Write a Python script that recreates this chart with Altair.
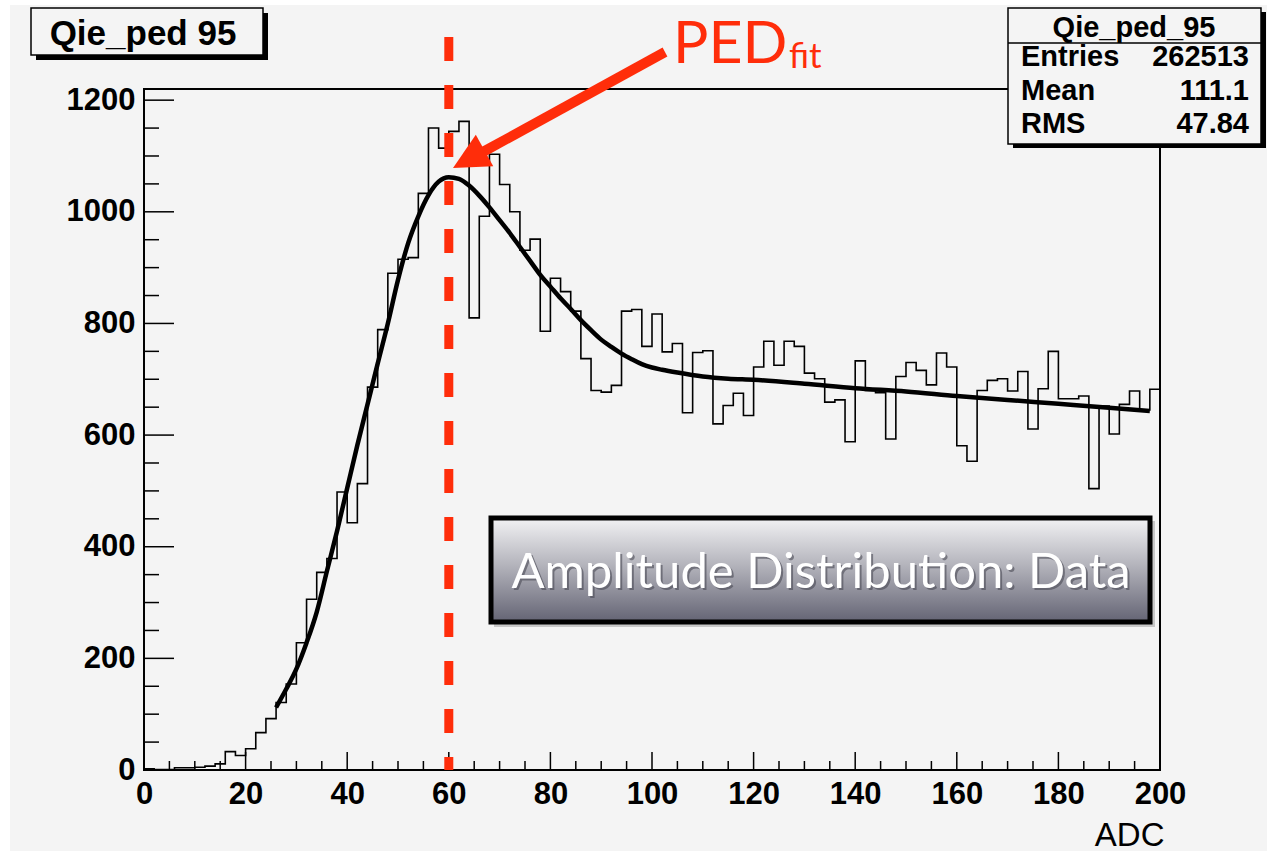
import altair as alt
import pandas as pd

# ---------------- data ----------------
bin_low = list(range(0, 200, 2))            # ADC bin lower edges (2 ADC wide bins)
counts = [2, 1, 1, 4, 4, 5, 7, 11, 33, 26,
          38, 67, 92, 121, 154, 228, 306, 354, 379, 498,
          443, 513, 686, 789, 890, 915, 918, 1033, 1150, 1114,
          1144, 1162, 810, 992, 1103, 1049, 1000, 931, 951, 786,
          881, 857, 822, 737, 680, 677, 689, 822, 825, 759,
          817, 749, 764, 640, 748, 751, 620, 653, 675, 635,
          722, 768, 725, 768, 759, 711, 701, 659, 663, 588,
          733, 680, 676, 593, 705, 730, 716, 690, 747, 722,
          581, 553, 680, 698, 701, 679, 714, 611, 683, 750,
          665, 665, 670, 504, 652, 602, 655, 679, 645, 682]

fit_adc = [26, 28, 30, 32, 34, 36, 38, 40, 42, 44, 46, 48, 50, 52, 54, 56, 58, 60,
           62, 64, 66, 68, 70, 72, 74, 76, 78, 80, 82, 84, 86, 88, 90, 92, 94, 96,
           98, 100, 102, 105, 110, 115, 120, 130, 140, 150, 160, 170, 180, 190, 198]
fit_val = [112, 145, 181, 228, 283, 356, 428, 505, 582, 655, 728, 800, 878, 944,
           992, 1030, 1054, 1062, 1059, 1047, 1029, 1008, 985, 962, 937, 912, 887,
           866, 845, 826, 806, 788, 771, 758, 746, 736, 727, 721, 717, 712, 705,
           701, 699, 692, 684, 678, 670, 663, 656, 649, 643]

ped_fit = [60]

x_major = list(range(0, 201, 20))
x_minor = [v for v in range(0, 201, 5) if v % 20]
y_major = list(range(0, 1201, 200))
y_minor = [v for v in range(0, 1201, 50) if v % 200]

stats_labels = ["Entries", "Mean", "RMS"]
stats_values = ["262513", "111.1", "47.84"]

# ---------------- layout / style ----------------
PAGE_W, PAGE_H = 1267, 851
OX, OY = 144, 89            # plot origin on the page
W, H = 1016, 681
RED = "#ff2d0a"
BG = "#f4f4f4"
ROOT_FONT = "Liberation Sans"
KEY_FONT = "Lato"
STAT_ROW_Y = [66, 100, 133]   # baselines of the stats rows on the page


def px(x):
    return x - OX


def py(y):
    return y - OY


xs = alt.Scale(domain=[0, 200], nice=False, zero=False)
ys = alt.Scale(domain=[0, 1220], nice=False, zero=False)

x_axis = alt.Axis(values=x_major, format="d", ticks=False, domain=False, grid=False,
                  labelFont=ROOT_FONT, labelFontWeight="bold", labelFontSize=31,
                  labelColor="black", labelPadding=9, labelFlush=False, labelOverlap=False,
                  title="ADC", titleFont=ROOT_FONT, titleFontWeight="normal",
                  titleFontSize=33, titleColor="black", titleAnchor="end",
                  titleAlign="right", titleBaseline="alphabetic", titleX=1020, titleY=75,
                  zindex=1)
y_axis = alt.Axis(values=y_major, format="d", ticks=False, domain=False, grid=False,
                  labelFont=ROOT_FONT, labelFontWeight="bold", labelFontSize=31,
                  labelColor="black", labelPadding=9, labelFlush=False, labelOverlap=False,
                  title=None, zindex=1)

hist_df = pd.DataFrame({"adc": bin_low + [200], "count": counts + [counts[-1]]})
fit_df = pd.DataFrame({"adc": fit_adc, "count": fit_val})

hist = alt.Chart(hist_df).mark_line(interpolate="step-after", color="black",
                                     strokeWidth=1.6).encode(
    x=alt.X("adc:Q", scale=xs, axis=x_axis),
    y=alt.Y("count:Q", scale=ys, axis=y_axis),
)

fit = alt.Chart(fit_df).mark_line(interpolate="monotone", color="black",
                                  strokeWidth=4.5).encode(
    x=alt.X("adc:Q", scale=xs, axis=x_axis), y=alt.Y("count:Q", scale=ys, axis=y_axis))

# inner ticks
xmaj = alt.Chart(pd.DataFrame({"adc": x_major})).mark_rule(color="black", strokeWidth=1.5).encode(
    x=alt.X("adc:Q", scale=xs, axis=x_axis), y=alt.value(H), y2=alt.value(H - 18))
xmin = alt.Chart(pd.DataFrame({"adc": x_minor})).mark_rule(color="black", strokeWidth=1.5).encode(
    x=alt.X("adc:Q", scale=xs, axis=x_axis), y=alt.value(H), y2=alt.value(H - 9))
ymaj = alt.Chart(pd.DataFrame({"count": y_major})).mark_rule(color="black", strokeWidth=1.5).encode(
    y=alt.Y("count:Q", scale=ys, axis=y_axis), x=alt.value(0), x2=alt.value(30))
ymin = alt.Chart(pd.DataFrame({"count": y_minor})).mark_rule(color="black", strokeWidth=1.5).encode(
    y=alt.Y("count:Q", scale=ys, axis=y_axis), x=alt.value(0), x2=alt.value(15))

one = pd.DataFrame({"k": [0]})

# white page margins
white_left = alt.Chart(one).mark_rect(color="white").encode(
    x=alt.value(px(0)), x2=alt.value(px(10)), y=alt.value(py(0)), y2=alt.value(py(PAGE_H)))
white_top = alt.Chart(one).mark_rect(color="white").encode(
    x=alt.value(px(0)), x2=alt.value(px(PAGE_W)), y=alt.value(py(0)), y2=alt.value(py(5)))

# red dashed PED line
ped_line = alt.Chart(pd.DataFrame({"adc": ped_fit})).mark_rule(
    color=RED, strokeWidth=9, strokeDash=[24, 24]).encode(
    x=alt.X("adc:Q", scale=xs, axis=x_axis), y=alt.value(py(37)), y2=alt.value(H))

# arrow
shaft = alt.Chart(one).mark_rule(color=RED, strokeWidth=10).encode(
    x=alt.value(px(665)), y=alt.value(py(52)), x2=alt.value(px(481)), y2=alt.value(py(153)))
head = alt.Chart(one).mark_point(shape="M0,0 L1,2 L-1,2 Z", size=1300, angle=241,
                                 filled=True, color=RED, opacity=1).encode(
    x=alt.value(px(453)), y=alt.value(py(168)))
ped_txt = alt.Chart(one).mark_text(text="PED", font=KEY_FONT, fontSize=59, color=RED,
                                   align="left", baseline="alphabetic").encode(
    x=alt.value(px(673)), y=alt.value(py(63)))
fit_txt = alt.Chart(one).mark_text(text="fit", font=KEY_FONT, fontSize=35, color=RED,
                                   align="left", baseline="alphabetic").encode(
    x=alt.value(px(789)), y=alt.value(py(68)))

# "Amplitude Distribution: Data" box
grad = alt.LinearGradient(gradient="linear", x1=0, x2=0, y1=0, y2=1,
                          stops=[alt.GradientStop(offset=0, color="#f2f2f4"),
                                 alt.GradientStop(offset=0.45, color="#b4b4bc"),
                                 alt.GradientStop(offset=1, color="#646474")])
amp_shadow = alt.Chart(one).mark_rect(color="#9a9a9a", opacity=0.5).encode(
    x=alt.value(px(494)), x2=alt.value(px(1155)), y=alt.value(py(521)), y2=alt.value(py(627)))
amp_box = alt.Chart(one).mark_rect(color=grad, stroke="black", strokeWidth=5).encode(
    x=alt.value(px(491)), x2=alt.value(px(1150)), y=alt.value(py(518)), y2=alt.value(py(622)))
amp_txt_sh = alt.Chart(one).mark_text(text="Amplitude Distribution: Data", font=KEY_FONT,
                                      fontSize=49, color="#4a4a55", opacity=0.6,
                                      align="center", baseline="alphabetic").encode(
    x=alt.value(px(823)), y=alt.value(py(590)))
amp_txt = alt.Chart(one).mark_text(text="Amplitude Distribution: Data", font=KEY_FONT,
                                   fontSize=49, color="white",
                                   align="center", baseline="alphabetic").encode(
    x=alt.value(px(821)), y=alt.value(py(588)))

# title box
title_sh = alt.Chart(one).mark_rect(color="black").encode(
    x=alt.value(px(36)), x2=alt.value(px(268)), y=alt.value(py(13)), y2=alt.value(py(60)))
title_box = alt.Chart(one).mark_rect(color=BG, stroke="black", strokeWidth=1.5).encode(
    x=alt.value(px(31)), x2=alt.value(px(263)), y=alt.value(py(8)), y2=alt.value(py(55)))
title_txt = alt.Chart(one).mark_text(text="Qie_ped 95", font=ROOT_FONT, fontWeight="bold",
                                     fontSize=35, color="black", align="center",
                                     baseline="alphabetic").encode(
    x=alt.value(px(143)), y=alt.value(py(45)))

# stats box
st_sh = alt.Chart(one).mark_rect(color="black").encode(
    x=alt.value(px(1013)), x2=alt.value(px(1266)), y=alt.value(py(12)), y2=alt.value(py(148)))
st_box = alt.Chart(one).mark_rect(color=BG, stroke="black", strokeWidth=1.5).encode(
    x=alt.value(px(1008)), x2=alt.value(px(1261)), y=alt.value(py(8)), y2=alt.value(py(144)))
st_sep = alt.Chart(one).mark_rule(color="black", strokeWidth=1.5).encode(
    x=alt.value(px(1008)), x2=alt.value(px(1261)), y=alt.value(py(43)))
st_title = alt.Chart(one).mark_text(text="Qie_ped_95", font=ROOT_FONT, fontWeight="bold",
                                    fontSize=29, color="black", align="center",
                                    baseline="alphabetic").encode(
    x=alt.value(px(1134)), y=alt.value(py(37)))

stat_layers = []
for lab, val, ry in zip(stats_labels, stats_values, STAT_ROW_Y):
    stat_layers.append(alt.Chart(one).mark_text(
        text=lab, font=ROOT_FONT, fontWeight="bold", fontSize=29, color="black",
        align="left", baseline="alphabetic").encode(x=alt.value(px(1021)), y=alt.value(py(ry))))
    stat_layers.append(alt.Chart(one).mark_text(
        text=val, font=ROOT_FONT, fontWeight="bold", fontSize=29, color="black",
        align="right", baseline="alphabetic").encode(x=alt.value(px(1249)), y=alt.value(py(ry))))

chart = alt.layer(
    white_left, white_top, hist, fit, xmaj, xmin, ymaj, ymin, ped_line,
    amp_shadow, amp_box, amp_txt_sh, amp_txt, shaft, head, ped_txt, fit_txt,
    title_sh, title_box, title_txt, st_sh, st_box, st_sep, st_title, *stat_layers,
).properties(
    width=W, height=H,
    autosize=alt.AutoSizeParams(type="none"),
    padding={"left": OX, "top": OY, "right": PAGE_W - OX - W, "bottom": PAGE_H - OY - H},
    background=BG,
).configure_view(stroke="black", strokeWidth=2)

chart.save("out.html", embed_options={"renderer": "svg", "actions": False})
